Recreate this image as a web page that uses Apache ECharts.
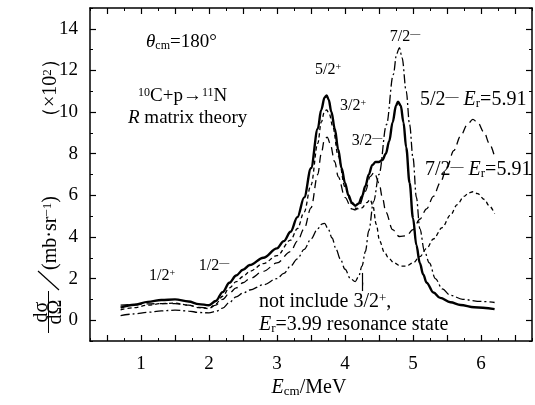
<!DOCTYPE html>
<html><head><meta charset="utf-8">
<script src="https://cdn.jsdelivr.net/npm/echarts@6/dist/echarts.min.js"></script>
<style>html,body{margin:0;padding:0;background:#fff}#c{width:535px;height:405px}</style>
</head><body><div id="c"></div>
<script>
// ---- data ----
const xTickLabels = [1, 2, 3, 4, 5, 6];
const yTickLabels = [0, 2, 4, 6, 8, 10, 12, 14];
const xMajorTicks = [0.5, 1, 1.5, 2, 2.5, 3, 3.5, 4, 4.5, 5, 5.5, 6, 6.5];
const yMajorTicks = [0, 2, 4, 6, 8, 10, 12, 14];

const solidData = [[0.7,0.6],[0.9,0.74],[1.1,0.88],[1.3,0.97],[1.5,1.0],[1.7,0.9],[1.85,0.77],[2.0,0.72],[2.1,0.92],[2.2,1.35],[2.3,1.8],[2.4,2.15],[2.5,2.42],[2.6,2.65],[2.8,3.0],[3.0,3.45],[3.1,3.8],[3.2,4.25],[3.3,4.95],[3.4,5.9],[3.5,7.3],[3.6,9.2],[3.65,10.1],[3.7,10.7],[3.73,10.8],[3.76,10.6],[3.8,10.0],[3.85,9.2],[3.9,8.2],[3.95,7.3],[4.0,6.6],[4.05,6.0],[4.1,5.65],[4.15,5.5],[4.2,5.6],[4.25,5.95],[4.3,6.45],[4.35,7.0],[4.4,7.45],[4.45,7.6],[4.5,7.6],[4.55,7.7],[4.6,8.0],[4.65,8.6],[4.7,9.5],[4.75,10.3],[4.78,10.5],[4.82,10.3],[4.86,9.5],[4.9,8.3],[4.95,6.6],[5.0,4.9],[5.05,3.6],[5.1,2.75],[5.15,2.2],[5.2,1.8],[5.3,1.33],[5.4,1.07],[5.55,0.86],[5.7,0.73],[5.9,0.62],[6.2,0.53]];

const longDashData = [[0.7,0.72],[0.9,0.75],[1.1,0.78],[1.3,0.8],[1.5,0.8],[1.7,0.72],[1.85,0.62],[2.0,0.58],[2.1,0.72],[2.2,1.0],[2.3,1.3],[2.4,1.55],[2.5,1.8],[2.6,2.0],[2.8,2.35],[3.0,2.75],[3.2,3.3],[3.3,3.8],[3.4,4.4],[3.5,5.4],[3.6,7.0],[3.65,8.0],[3.7,8.7],[3.74,8.8],[3.78,8.5],[3.85,7.6],[3.9,6.9],[4.0,5.9],[4.1,5.35],[4.15,5.3],[4.2,5.45],[4.3,6.2],[4.37,6.9],[4.43,7.1],[4.5,6.6],[4.55,5.9],[4.6,5.2],[4.7,4.35],[4.8,4.02],[4.9,4.05],[5.0,4.35],[5.1,4.85],[5.2,5.35],[5.3,5.95],[5.4,6.6],[5.5,7.35],[5.6,8.15],[5.7,8.85],[5.8,9.4],[5.88,9.65],[5.95,9.5],[6.05,9.0],[6.12,8.5],[6.2,7.85]];

const shortDashData = [[0.7,0.5],[0.9,0.6],[1.1,0.72],[1.3,0.8],[1.5,0.82],[1.7,0.72],[1.85,0.6],[2.0,0.56],[2.1,0.78],[2.2,1.15],[2.3,1.55],[2.4,1.85],[2.5,2.1],[2.6,2.35],[2.8,2.72],[3.0,3.1],[3.2,3.85],[3.3,4.4],[3.4,5.2],[3.5,6.5],[3.6,8.5],[3.65,9.5],[3.7,10.05],[3.73,10.1],[3.77,9.9],[3.82,9.3],[3.9,7.9],[4.0,6.4],[4.1,5.6],[4.17,5.35],[4.25,5.4],[4.32,5.65],[4.37,5.8],[4.41,5.5],[4.46,4.6],[4.51,3.8],[4.58,3.25],[4.65,2.95],[4.72,2.75],[4.82,2.6],[4.9,2.6],[5.0,2.75],[5.1,3.05],[5.2,3.45],[5.3,3.9],[5.43,4.45],[5.55,5.05],[5.65,5.55],[5.75,5.95],[5.82,6.12],[5.88,6.17],[5.95,6.08],[6.05,5.8],[6.12,5.5],[6.2,5.12]];

const dashDotData = [[0.7,0.22],[0.9,0.3],[1.1,0.38],[1.3,0.45],[1.5,0.48],[1.7,0.44],[1.85,0.37],[2.0,0.35],[2.1,0.42],[2.2,0.58],[2.3,0.85],[2.4,1.12],[2.5,1.3],[2.6,1.45],[2.8,1.7],[3.0,2.0],[3.1,2.25],[3.2,2.6],[3.3,2.95],[3.4,3.4],[3.5,3.9],[3.6,4.4],[3.66,4.62],[3.7,4.65],[3.75,4.4],[3.81,3.95],[3.87,3.4],[3.93,2.95],[4.0,2.45],[4.08,2.0],[4.15,1.85],[4.2,2.1],[4.25,2.6],[4.3,3.3],[4.35,4.3],[4.42,5.7],[4.5,7.0],[4.61,9.4],[4.71,11.8],[4.76,12.8],[4.8,13.1],[4.84,12.6],[4.9,11.0],[4.95,9.4],[5.0,7.8],[5.05,5.9],[5.1,4.4],[5.17,3.3],[5.24,2.75],[5.33,2.0],[5.43,1.5],[5.55,1.2],[5.73,1.0],[6.0,0.9],[6.2,0.85]];

const arrowFrom = [4.26, 2.27];
const arrowTo = [4.26, 1.40];

// ---- chart ----
const F = '"Liberation Serif","Times New Roman",serif';
const chart = echarts.init(document.getElementById('c'), null, {renderer: 'canvas'});

function xAx(pos, major, labels) {
  return {
    type: 'value', position: pos, min: 0.25, max: 6.75, interval: 0.25,
    splitLine: {show: false},
    axisLine: {show: !major, onZero: false, lineStyle: {color: '#000', width: 1.5}},
    axisTick: major ? {show: true, inside: true, length: 6, customValues: xMajorTicks, lineStyle: {color: '#000', width: 1.2}}
                    : {show: true, inside: true, length: 3, lineStyle: {color: '#000', width: 1}},
    axisLabel: labels ? {show: true, margin: 14, fontSize: 19, fontFamily: F, color: '#000',
      formatter: v => xTickLabels.indexOf(Math.round(v * 1000) / 1000) >= 0 ? String(Math.round(v)) : ''} : {show: false}
  };
}
function yAx(pos, major, labels) {
  return {
    type: 'value', position: pos, min: -1, max: 15, interval: 1,
    splitLine: {show: false},
    axisLine: {show: !major, onZero: false, lineStyle: {color: '#000', width: 1.5}},
    axisTick: major ? {show: true, inside: true, length: 6, customValues: yMajorTicks, lineStyle: {color: '#000', width: 1.2}}
                    : {show: true, inside: true, length: 3, lineStyle: {color: '#000', width: 1}},
    axisLabel: labels ? {show: true, margin: 12, fontSize: 19, fontFamily: F, color: '#000',
      formatter: v => yTickLabels.indexOf(Math.round(v)) >= 0 && Math.abs(v - Math.round(v)) < 1e-6 ? String(Math.round(v)) : ''} : {show: false}
  };
}

function mkRich(size) {
  const sub = Math.round(size * 0.65);
  return {
    i: {fontStyle: 'italic', fontFamily: F, fontSize: size},
    sub: {fontFamily: F, fontSize: sub, verticalAlign: 'bottom', padding: [Math.round(size * 0.33), 0, 0, 0]},
    sup: {fontFamily: F, fontSize: sub, verticalAlign: 'top'}
  };
}
function T(x, y, text, size, align) {
  return {type: 'text', x: x, y: y, z: 100, style: {text: text, rich: mkRich(size), fontFamily: F, fontSize: size, fill: '#000', align: align || 'left', verticalAlign: 'middle'}};
}

const lineBase = {type: 'line', showSymbol: false, smooth: 0.35, smoothMonotone: 'x', animation: false, xAxisIndex: 0, yAxisIndex: 0, silent: true};

chart.setOption({
  animation: false,
  backgroundColor: '#fff',
  grid: {left: 90, top: 8, right: -2, bottom: 64, containLabel: false},
  xAxis: [xAx('bottom', false, true), xAx('bottom', true, false), xAx('top', false, false), xAx('top', true, false)],
  yAxis: [yAx('left', false, true), yAx('left', true, false), yAx('right', false, false), yAx('right', true, false)],
  series: [
    Object.assign({}, lineBase, {name: 'dashdot', data: dashDotData, z: 2, lineStyle: {color: '#000', width: 1.3, type: [9, 3, 2, 3]},
      markLine: {silent: true, animation: false, symbol: ['none', 'arrow'], symbolSize: [1, 9], label: {show: false},
        lineStyle: {color: '#000', width: 1.2, type: 'solid'},
        data: [[{coord: arrowFrom}, {coord: arrowTo}]]}}),
    Object.assign({}, lineBase, {name: 'long', data: longDashData, z: 3, lineStyle: {color: '#000', width: 1.3, type: [8, 5]}}),
    Object.assign({}, lineBase, {name: 'short', data: shortDashData, z: 3, lineStyle: {color: '#000', width: 1.3, type: [4, 3]}}),
    Object.assign({}, lineBase, {name: 'solid', data: solidData, z: 4, lineStyle: {color: '#000', width: 2.4, type: 'solid'}})
  ],
  graphic: [
    T(146, 42, '{i|θ}{sub|cm}=180°', 19),
    T(138, 96, '{sup|10}C+p→{sup|11}N', 19),
    T(128, 118, '{i|R} matrix theory', 19),
    T(162, 276, '1/2{sup|+}', 16, 'center'),
    T(214, 266, '1/2{sup|—}', 16, 'center'),
    T(328, 70, '5/2{sup|+}', 16, 'center'),
    T(353, 106, '3/2{sup|+}', 16, 'center'),
    T(367, 141, '3/2{sup|—}', 16, 'center'),
    T(405, 37, '7/2{sup|—}', 16, 'center'),
    T(420, 100, '5/2{sup|—} {i|E}{sub|r}=5.91', 20),
    T(425, 170, '7/2{sup|—} {i|E}{sub|r}=5.91', 20),
    T(259, 302, 'not include 3/2{sup|+},', 20),
    T(259, 325, '{i|E}{sub|r}=3.99 resonance state', 20),
    T(309, 388, '{i|E}{sub|cm}/MeV', 20, 'center'),
    {type: 'group', x: 52, y: 336, rotation: Math.PI / 2, children: [
      {type: 'text', x: 24, y: -10, style: {text: 'dσ', fontFamily: F, fontSize: 20, fill: '#000', align: 'center', verticalAlign: 'middle'}},
      {type: 'line', shape: {x1: 3, y1: -3.5, x2: 45, y2: -3.5}, style: {stroke: '#000', lineWidth: 1}},
      {type: 'text', x: 24, y: 4, style: {text: 'dΩ', fontFamily: F, fontSize: 20, fill: '#000', align: 'center', verticalAlign: 'middle'}},
      {type: 'line', shape: {x1: 46, y1: 7, x2: 65, y2: -14}, style: {stroke: '#000', lineWidth: 1.2}},
      {type: 'text', x: 66, y: -1, style: {text: '(mb·sr{sup|−1})', rich: mkRich(20), fontFamily: F, fontSize: 20, fill: '#000', align: 'left', verticalAlign: 'middle'}},
      {type: 'text', x: 209, y: -1, style: {text: '（×10{sup|2}）', rich: mkRich(20), fontFamily: F, fontSize: 20, fill: '#000', align: 'left', verticalAlign: 'middle'}}
    ]}
  ]
});
</script>
</body></html>
